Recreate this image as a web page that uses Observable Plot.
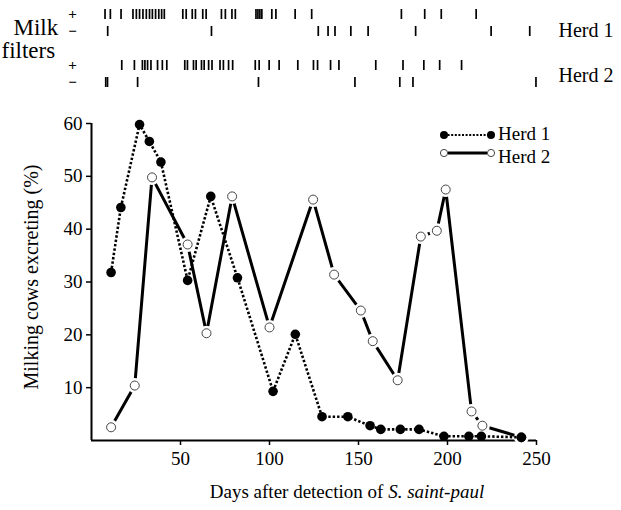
<!DOCTYPE html>
<html><head><meta charset="utf-8">
<script src="https://cdn.jsdelivr.net/npm/d3@7"></script>
<script src="https://cdn.jsdelivr.net/npm/@observablehq/plot@0.6"></script>
<style>
body{margin:0;background:#fff;}
#chart{position:relative;width:621px;height:510px;background:#fff;}
#chart svg{display:block;}
</style></head><body><div id="chart"></div>
<script>
// Main chart data
const herd1Days = [11, 16.5, 27, 32.5, 39, 54, 67, 82, 102, 114.5, 129.5, 144, 156.5, 162.5, 173.5, 184, 198, 212, 219, 241.5];
const herd1Pct  = [31.8, 44.1, 59.8, 56.6, 52.7, 30.3, 46.2, 30.8, 9.3, 20.1, 4.5, 4.5, 2.8, 2.1, 2.1, 2.1, 0.8, 0.8, 0.8, 0.6];
const herd2Days = [11, 24.3, 34, 54, 64.6, 79, 100, 124.5, 136.3, 151.3, 158, 172, 185, 194, 199, 213.5, 219.6, 241.5];
const herd2Pct  = [2.5, 10.4, 49.8, 37.1, 20.3, 46.2, 21.4, 45.6, 31.4, 24.6, 18.8, 11.4, 38.6, 39.7, 47.5, 5.5, 2.8, 0.6];
const xTicks = [50, 100, 150, 200, 250];
const yTicks = [10, 20, 30, 40, 50, 60];

// Milk filter results (days)
const herd1PosDays = [7.6, 10.6, 16.6, 23.3, 25.2, 27, 28.9, 30.8, 32.6, 34.2, 36, 37.8, 39.4, 40.9, 51.3, 53.2, 56.6, 58.4, 62.5, 64.4, 73, 75.2, 78.9, 80.8, 92.4, 93.5, 94.6, 95.7, 101.3, 103.6, 114.4, 123.7, 174.1, 187.2, 196.5, 216.1];
const herd1NegDays = [9.1, 67.4, 127.4, 132.9, 136.8, 145.7, 155.4, 182.1, 224.5, 246.2];
const herd2PosDays = [17, 24.1, 28.6, 30, 31.5, 33.4, 37.1, 39.8, 42.3, 52.4, 53.9, 57.3, 58.8, 61.8, 63.3, 65.8, 67.7, 72.2, 74.1, 77, 79.3, 92, 94.2, 99.8, 105.4, 115.9, 124.7, 127, 134.3, 139, 159.7, 175, 186.7, 195.6, 207.9];
const herd2NegDays = [8, 9, 25.9, 93.8, 148, 173.2, 180.6, 249.7];
const stripRows = ["1+", "1\u2212", "gap", "2+", "2\u2212"];
const signRows = ["1+", "1\u2212", "2+", "2\u2212"];
const signLabels = ["+", "\u2212", "+", "\u2212"];
const herdNames = ["Herd 1", "Herd 2"];

const FONT = "'Liberation Serif', 'Times New Roman', serif";

const herd1 = herd1Days.map((d, i) => ({day: d, pct: herd1Pct[i]}));
const herd2 = herd2Days.map((d, i) => ({day: d, pct: herd2Pct[i]}));
const strips = [
  ...herd1PosDays.map(d => ({day: d, row: "1+"})),
  ...herd1NegDays.map(d => ({day: d, row: "1\u2212"})),
  ...herd2PosDays.map(d => ({day: d, row: "2+"})),
  ...herd2NegDays.map(d => ({day: d, row: "2\u2212"}))
];
const signs = signRows.map((r, i) => ({row: r, label: signLabels[i]}));

const topPlot = Plot.plot({
  width: 621, height: 95,
  marginTop: 7, marginBottom: 7, marginLeft: 91, marginRight: 85,
  x: {domain: [0, 250], axis: null},
  y: {domain: stripRows, range: [7, 88], paddingInner: 0.42, paddingOuter: 0, axis: null},
  style: {fontFamily: FONT, background: "white", color: "black", overflow: "visible"},
  marks: [
    Plot.tickX(strips, {x: "day", y: "row", stroke: "black", strokeWidth: 1.7}),
    Plot.text(signs, {y: "row", text: "label", frameAnchor: "left", dx: -19, textAnchor: "middle", fontSize: 15, fontWeight: "bold"}),
    Plot.text(["Milk"], {y: () => "1\u2212", text: d => d, frameAnchor: "left", dx: -78, textAnchor: "start", fontSize: 23, dy: -4}),
    Plot.text(["filters"], {y: () => "gap", text: d => d, frameAnchor: "left", dx: -90, textAnchor: "start", fontSize: 23, dy: 2}),
    Plot.text([herdNames[0]], {y: () => "1\u2212", text: d => d, frameAnchor: "right", dx: 22, textAnchor: "start", fontSize: 20, dy: -1}),
    Plot.text([herdNames[1]], {y: () => "2\u2212", text: d => d, frameAnchor: "right", dx: 22, textAnchor: "start", fontSize: 20, dy: -7})
  ]
});

const mainPlot = Plot.plot({
  width: 621, height: 415,
  marginTop: 28, marginBottom: 70, marginLeft: 91, marginRight: 85,
  x: {domain: [0, 250]},
  y: {domain: [0, 60]},
  style: {fontFamily: FONT, fontSize: "19px", color: "black", background: "white", overflow: "visible"},
  marks: [
    Plot.axisX({ticks: xTicks, tickSize: 5, tickPadding: 6, label: null, fontSize: 19, strokeWidth: 1.5}),
    Plot.axisY({ticks: yTicks, tickSize: 5, tickPadding: 4, label: null, fontSize: 19, strokeWidth: 1.5}),
    Plot.ruleX([0], {strokeWidth: 2}),
    Plot.ruleY([0], {strokeWidth: 2}),
    Plot.line(herd2, {x: "day", y: "pct", stroke: "black", strokeWidth: 3}),
    Plot.dot(herd2, {x: "day", y: "pct", r: 7.5, fill: "white", stroke: null}),
    Plot.line(herd1, {x: "day", y: "pct", stroke: "black", strokeWidth: 2.6, strokeDasharray: "2.4,2", strokeLinecap: "butt"}),
    Plot.dot(herd2, {x: "day", y: "pct", r: 4.5, fill: "white", stroke: "#444", strokeWidth: 1}),
    Plot.dot(herd1, {x: "day", y: "pct", r: 4.8, fill: "black", stroke: null})
  ]
});

const chart = document.getElementById("chart");
chart.appendChild(topPlot);
chart.appendChild(mainPlot);

const svg = d3.select(mainPlot);
// y-axis title
svg.append("text")
  .attr("transform", "translate(38,182) rotate(-90)")
  .attr("text-anchor", "middle")
  .attr("font-family", FONT).attr("font-size", 20).attr("fill", "black")
  .text("Milking cows excreting (%)");
// x-axis title with italic organism name
const xt = svg.append("text")
  .attr("x", 347).attr("y", 403)
  .attr("text-anchor", "middle")
  .attr("font-family", FONT).attr("font-size", 19).attr("fill", "black");
xt.append("tspan").text("Days after detection of ");
xt.append("tspan").attr("font-style", "italic").text("S. saint-paul");

// legend
const lg = svg.append("g").attr("font-family", FONT).attr("font-size", 19).attr("fill", "black").attr("text-anchor", "start");
lg.append("line").attr("x1", 444).attr("x2", 491).attr("y1", 40).attr("y2", 40)
  .attr("stroke", "black").attr("stroke-width", 2).attr("stroke-dasharray", "2,1.6");
lg.append("circle").attr("cx", 444).attr("cy", 40).attr("r", 4).attr("fill", "black");
lg.append("circle").attr("cx", 491).attr("cy", 40).attr("r", 4).attr("fill", "black");
lg.append("text").attr("x", 498).attr("y", 45).attr("text-anchor", "start").text(herdNames[0]);
lg.append("line").attr("x1", 448).attr("x2", 487).attr("y1", 58).attr("y2", 58)
  .attr("stroke", "black").attr("stroke-width", 3);
lg.append("circle").attr("cx", 444).attr("cy", 58).attr("r", 3.6).attr("fill", "white").attr("stroke", "#444").attr("stroke-width", 1);
lg.append("circle").attr("cx", 491).attr("cy", 58).attr("r", 3.6).attr("fill", "white").attr("stroke", "#444").attr("stroke-width", 1);
lg.append("text").attr("x", 498).attr("y", 68).attr("text-anchor", "start").text(herdNames[1]);
</script></body></html>
